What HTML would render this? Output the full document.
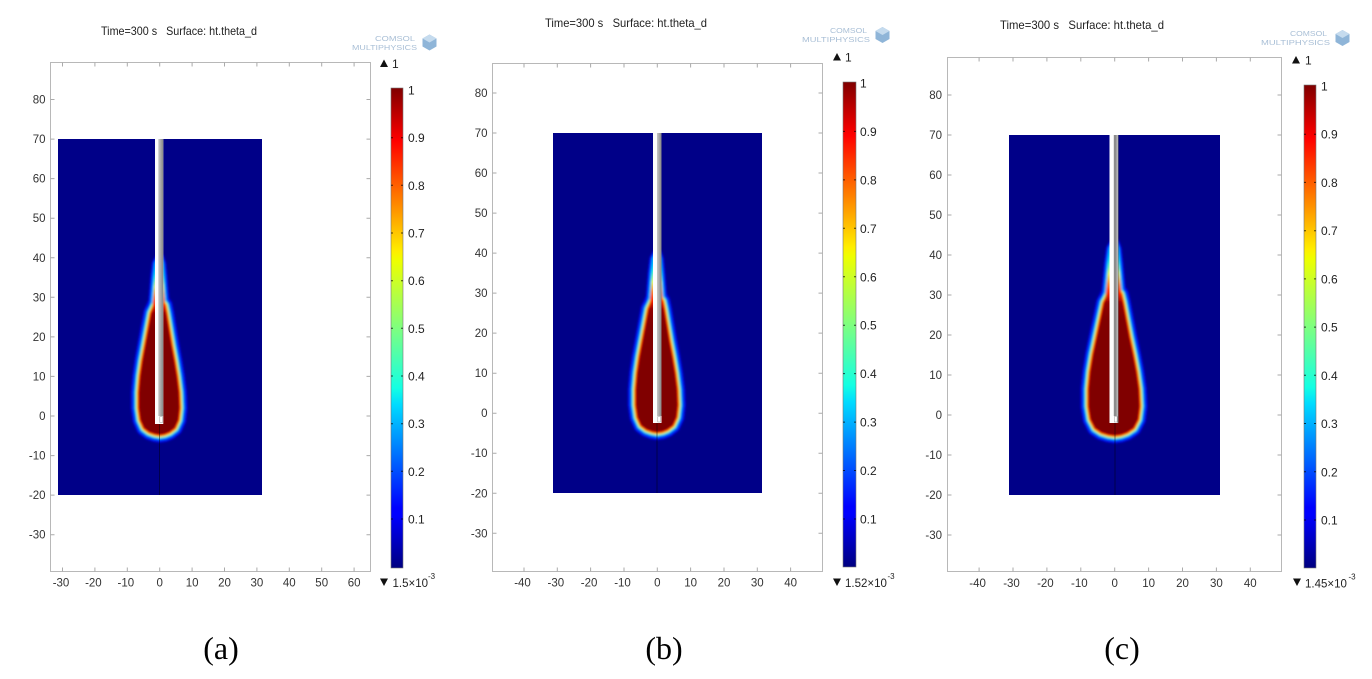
<!DOCTYPE html>
<html><head><meta charset="utf-8"><style>
html,body{margin:0;padding:0;background:#fff;}
svg{display:block;}
</style></head><body>
<svg width="1372" height="679" viewBox="0 0 1372 679" xmlns="http://www.w3.org/2000/svg" xmlns:xlink="http://www.w3.org/1999/xlink" font-family="'Liberation Sans', 'DejaVu Sans', sans-serif">
<defs>
  <linearGradient id="jet" x1="0" y1="0" x2="0" y2="1">
    <stop offset="0" stop-color="#800000"/>
    <stop offset="0.11" stop-color="#ff0000"/>
    <stop offset="0.34" stop-color="#ffee00"/>
    <stop offset="0.36" stop-color="#eeff00"/>
    <stop offset="0.5" stop-color="#7fff7f"/>
    <stop offset="0.625" stop-color="#14ffe3"/>
    <stop offset="0.66" stop-color="#00dbff"/>
    <stop offset="0.875" stop-color="#0000ff"/>
    <stop offset="0.89" stop-color="#0000ff"/>
    <stop offset="1" stop-color="#000080"/>
  </linearGradient>
  <linearGradient id="tailg" x1="0" y1="0" x2="0" y2="1">
    <stop offset="0" stop-color="#800000"/>
    <stop offset="0.22" stop-color="#900000"/>
    <stop offset="0.34" stop-color="#ff2000"/>
    <stop offset="0.48" stop-color="#ff9000"/>
    <stop offset="0.6" stop-color="#f0ff20"/>
    <stop offset="0.75" stop-color="#40ffc0"/>
    <stop offset="0.9" stop-color="#00b0ff"/>
    <stop offset="1" stop-color="#0050ff"/>
  </linearGradient>
  <linearGradient id="pg" x1="0" y1="0" x2="1" y2="0">
    <stop offset="0" stop-color="#c8c8c8"/>
    <stop offset="1" stop-color="#858585"/>
  </linearGradient>
  <filter id="bl" filterUnits="userSpaceOnUse" x="0" y="0" width="1372" height="679">
    <feGaussianBlur stdDeviation="1.1"/>
  </filter>
  <path id="core" vector-effect="non-scaling-stroke" stroke-linejoin="round" d="M0 29.5 L1.5 28 L2.0 26 L2.8 22 L3.6 18 L4.5 14 L5.3 10 L5.9 6 L6.1 2 L5.7 -1 L4.6 -3 L3.0 -4 L1.5 -4.5 L0 -4.7 L-1.5 -4.5 L-3.2 -4 L-4.8 -3 L-5.9 -1 L-6.4 2 L-6.4 6 L-6.0 10 L-5.3 14 L-4.4 18 L-3.5 22 L-2.6 26 L-1.5 28 Z"/>
  <path id="tail" vector-effect="non-scaling-stroke" stroke-linejoin="round" d="M0 40 L0.6 38.5 L1.0 35 L1.4 31 L1.8 27 L2.1 24 L2.3 22 L-2.8 22 L-2.6 24 L-2.3 27 L-1.9 31 L-1.5 35 L-1.0 38.5 Z"/>
  <g id="plume">
    <use xlink:href="#core" fill="none" stroke="#0008f0" stroke-width="16"/>
    <use xlink:href="#core" fill="none" stroke="#0050ff" stroke-width="12"/>
    <use xlink:href="#tail" fill="none" stroke="#0010f8" stroke-width="9"/>
    <use xlink:href="#tail" fill="none" stroke="#0060ff" stroke-width="5.5"/>
    <use xlink:href="#tail" fill="none" stroke="#00c8ff" stroke-width="3"/>
    <use xlink:href="#core" fill="none" stroke="#00b8ff" stroke-width="9"/>
    <use xlink:href="#core" fill="none" stroke="#50ffb0" stroke-width="7"/>
    <use xlink:href="#core" fill="none" stroke="#e8ff20" stroke-width="5.5"/>
    <use xlink:href="#core" fill="none" stroke="#ff9000" stroke-width="4"/>
    <use xlink:href="#core" fill="none" stroke="#ff1800" stroke-width="2.5"/>
    <use xlink:href="#core" fill="#800000" stroke="none"/>
    <use xlink:href="#tail" fill="url(#tailg)" stroke="none"/>
  </g>
</defs>

<!-- ================= PANEL A ================= -->
<text x="101" y="35" font-size="12" fill="#222" textLength="156" lengthAdjust="spacingAndGlyphs">Time=300 s&#160;&#160; Surface: ht.theta_d</text>
<text x="375" y="41" font-size="7" fill="#a9bfd6" textLength="40" lengthAdjust="spacingAndGlyphs">COMSOL</text>
<text x="352" y="50" font-size="7" fill="#a9bfd6" textLength="65" lengthAdjust="spacingAndGlyphs">MULTIPHYSICS</text>
<polygon points="429.5,34.5 436.5,38.5 436.5,46.5 429.5,50.5 422.5,46.5 422.5,38.5" fill="#8fb5d8"/>
<polygon points="429.5,34.5 436.5,38.5 429.5,42.5 422.5,38.5" fill="#c5dbee"/>

<rect x="50.5" y="62.5" width="320" height="509" fill="none" stroke="#b8b8b8" stroke-width="1"/>
<path stroke="#aaa" stroke-width="1" fill="none" d="M62.5 571.5v-4M94.9 571.5v-4M127.3 571.5v-4M159.7 571.5v-4M192.1 571.5v-4M224.5 571.5v-4M256.9 571.5v-4M289.3 571.5v-4M321.7 571.5v-4M354.1 571.5v-4
M62.5 62.5v4M94.9 62.5v4M127.3 62.5v4M159.7 62.5v4M192.1 62.5v4M224.5 62.5v4M256.9 62.5v4M289.3 62.5v4M321.7 62.5v4M354.1 62.5v4
M50.5 99.5h4M50.5 139.1h4M50.5 178.6h4M50.5 218.2h4M50.5 257.8h4M50.5 297.3h4M50.5 336.9h4M50.5 376.4h4M50.5 416h4M50.5 455.6h4M50.5 495.1h4M50.5 534.7h4
M370.5 99.5h-4M370.5 139.1h-4M370.5 178.6h-4M370.5 218.2h-4M370.5 257.8h-4M370.5 297.3h-4M370.5 336.9h-4M370.5 376.4h-4M370.5 416h-4M370.5 455.6h-4M370.5 495.1h-4M370.5 534.7h-4"/>
<g font-size="11.5" fill="#333" text-anchor="end">
<text x="45.5" y="103.5">80</text><text x="45.5" y="143.1">70</text><text x="45.5" y="182.6">60</text><text x="45.5" y="222.2">50</text><text x="45.5" y="261.8">40</text><text x="45.5" y="301.3">30</text><text x="45.5" y="340.9">20</text><text x="45.5" y="380.4">10</text><text x="45.5" y="420">0</text><text x="45.5" y="459.6">-10</text><text x="45.5" y="499.1">-20</text><text x="45.5" y="538.7">-30</text>
</g>
<g font-size="11.5" fill="#333" text-anchor="middle">
<text x="61" y="586.5">-30</text><text x="93.4" y="586.5">-20</text><text x="125.8" y="586.5">-10</text><text x="159.7" y="586.5">0</text><text x="192.1" y="586.5">10</text><text x="224.5" y="586.5">20</text><text x="256.9" y="586.5">30</text><text x="289.3" y="586.5">40</text><text x="321.7" y="586.5">50</text><text x="354.1" y="586.5">60</text>
</g>
<rect x="58" y="139" width="204" height="356" fill="#000088"/>
<g filter="url(#bl)"><g transform="translate(159.7,416) scale(3.24,-3.956)"><use xlink:href="#plume"/></g></g>
<line x1="159.5" y1="424" x2="159.5" y2="495" stroke="#000" stroke-opacity="0.55" stroke-width="0.8"/>
<rect x="155" y="139" width="8.3" height="285" fill="#fdfdfd"/>
<rect x="158.3" y="139" width="5" height="277" fill="url(#pg)"/>
<rect x="159.8" y="416.5" width="2.8" height="6" fill="#fff" stroke="#999" stroke-width="0.5"/>

<rect x="391" y="88" width="12" height="480" fill="url(#jet)" stroke="#777" stroke-width="0.6"/>
<path stroke="#000" stroke-opacity="0.7" stroke-width="1" d="M391 137.7h2M401 137.7h2M391 185.3h2M401 185.3h2M391 233h2M401 233h2M391 280.7h2M401 280.7h2M391 328.3h2M401 328.3h2M391 376h2M401 376h2M391 423.7h2M401 423.7h2M391 471.3h2M401 471.3h2M391 519h2M401 519h2"/>
<g font-size="12" fill="#222">
<text x="408" y="94.5">1</text><text x="408" y="142.2">0.9</text><text x="408" y="189.8">0.8</text><text x="408" y="237.5">0.7</text><text x="408" y="285.2">0.6</text><text x="408" y="332.8">0.5</text><text x="408" y="380.5">0.4</text><text x="408" y="428.2">0.3</text><text x="408" y="475.8">0.2</text><text x="408" y="523.5">0.1</text>
</g>
<polygon points="380,67 388,67 384,59.5" fill="#111"/>
<text x="392" y="68" font-size="12" fill="#222">1</text>
<polygon points="380,578.5 388,578.5 384,586" fill="#111"/>
<text x="392.5" y="587" font-size="11.5" fill="#222">1.5×10</text>
<text x="428" y="579" font-size="8" fill="#222">-3</text>

<!-- ================= PANEL B ================= -->
<text x="545" y="27" font-size="12" fill="#222" textLength="162" lengthAdjust="spacingAndGlyphs">Time=300 s&#160;&#160; Surface: ht.theta_d</text>
<text x="830" y="33" font-size="7" fill="#a9bfd6" textLength="37" lengthAdjust="spacingAndGlyphs">COMSOL</text>
<text x="802" y="42" font-size="7" fill="#a9bfd6" textLength="68" lengthAdjust="spacingAndGlyphs">MULTIPHYSICS</text>
<polygon points="882.5,27 889.5,31 889.5,39 882.5,43 875.5,39 875.5,31" fill="#8fb5d8"/>
<polygon points="882.5,27 889.5,31 882.5,35 875.5,31" fill="#c5dbee"/>

<rect x="492.5" y="63.5" width="330" height="508" fill="none" stroke="#b8b8b8" stroke-width="1"/>
<path stroke="#aaa" stroke-width="1" fill="none" d="M524 571.5v-4M557.3 571.5v-4M590.6 571.5v-4M624 571.5v-4M657.3 571.5v-4M690.6 571.5v-4M724 571.5v-4M757.3 571.5v-4M790.6 571.5v-4
M524 63.5v4M557.3 63.5v4M590.6 63.5v4M624 63.5v4M657.3 63.5v4M690.6 63.5v4M724 63.5v4M757.3 63.5v4M790.6 63.5v4
M492.5 93h4M492.5 133h4M492.5 173h4M492.5 213.1h4M492.5 253.1h4M492.5 293.1h4M492.5 333.1h4M492.5 373.2h4M492.5 413.2h4M492.5 453.2h4M492.5 493.3h4M492.5 533.3h4
M822.5 93h-4M822.5 133h-4M822.5 173h-4M822.5 213.1h-4M822.5 253.1h-4M822.5 293.1h-4M822.5 333.1h-4M822.5 373.2h-4M822.5 413.2h-4M822.5 453.2h-4M822.5 493.3h-4M822.5 533.3h-4"/>
<g font-size="11.5" fill="#333" text-anchor="end">
<text x="487.5" y="97">80</text><text x="487.5" y="137">70</text><text x="487.5" y="177">60</text><text x="487.5" y="217.1">50</text><text x="487.5" y="257.1">40</text><text x="487.5" y="297.1">30</text><text x="487.5" y="337.1">20</text><text x="487.5" y="377.2">10</text><text x="487.5" y="417.2">0</text><text x="487.5" y="457.2">-10</text><text x="487.5" y="497.3">-20</text><text x="487.5" y="537.3">-30</text>
</g>
<g font-size="11.5" fill="#333" text-anchor="middle">
<text x="522.5" y="586.5">-40</text><text x="555.8" y="586.5">-30</text><text x="589.1" y="586.5">-20</text><text x="622.5" y="586.5">-10</text><text x="657.3" y="586.5">0</text><text x="690.6" y="586.5">10</text><text x="724" y="586.5">20</text><text x="757.3" y="586.5">30</text><text x="790.6" y="586.5">40</text>
</g>
<rect x="553" y="133" width="209" height="360" fill="#000088"/>
<g filter="url(#bl)"><g transform="translate(657.3,413.2) scale(3.333,-4.003)"><use xlink:href="#plume"/></g></g>
<line x1="657" y1="423" x2="657" y2="493" stroke="#000" stroke-opacity="0.55" stroke-width="0.8"/>
<rect x="653" y="133" width="8.5" height="290" fill="#fdfdfd"/>
<rect x="657" y="133" width="4.5" height="283" fill="url(#pg)"/>
<rect x="657.8" y="416.5" width="2.8" height="5.5" fill="#fff" stroke="#999" stroke-width="0.5"/>

<rect x="843" y="82" width="13" height="485" fill="url(#jet)" stroke="#777" stroke-width="0.6"/>
<path stroke="#000" stroke-opacity="0.7" stroke-width="1" d="M843 131.4h2M854 131.4h2M843 179.9h2M854 179.9h2M843 228.3h2M854 228.3h2M843 276.8h2M854 276.8h2M843 325.2h2M854 325.2h2M843 373.6h2M854 373.6h2M843 422.1h2M854 422.1h2M843 470.5h2M854 470.5h2M843 519h2M854 519h2"/>
<g font-size="12" fill="#222">
<text x="860" y="87.5">1</text><text x="860" y="135.9">0.9</text><text x="860" y="184.4">0.8</text><text x="860" y="232.8">0.7</text><text x="860" y="281.3">0.6</text><text x="860" y="329.7">0.5</text><text x="860" y="378.1">0.4</text><text x="860" y="426.6">0.3</text><text x="860" y="475">0.2</text><text x="860" y="523.5">0.1</text>
</g>
<polygon points="833,60.5 841,60.5 837,53" fill="#111"/>
<text x="845" y="61.5" font-size="12" fill="#222">1</text>
<polygon points="833,578.5 841,578.5 837,586" fill="#111"/>
<text x="845" y="587" font-size="11.5" fill="#222">1.52×10</text>
<text x="887.5" y="579" font-size="8" fill="#222">-3</text>

<!-- ================= PANEL C ================= -->
<text x="1000" y="29" font-size="12" fill="#222" textLength="164" lengthAdjust="spacingAndGlyphs">Time=300 s&#160;&#160; Surface: ht.theta_d</text>
<text x="1290" y="36" font-size="7" fill="#a9bfd6" textLength="37" lengthAdjust="spacingAndGlyphs">COMSOL</text>
<text x="1261" y="45" font-size="7" fill="#a9bfd6" textLength="69" lengthAdjust="spacingAndGlyphs">MULTIPHYSICS</text>
<polygon points="1342.5,30 1349.5,34 1349.5,42 1342.5,46 1335.5,42 1335.5,34" fill="#8fb5d8"/>
<polygon points="1342.5,30 1349.5,34 1342.5,38 1335.5,34" fill="#c5dbee"/>

<rect x="947.5" y="57.5" width="334" height="514" fill="none" stroke="#b8b8b8" stroke-width="1"/>
<path stroke="#aaa" stroke-width="1" fill="none" d="M979.1 571.5v-4M1013 571.5v-4M1046.9 571.5v-4M1080.8 571.5v-4M1114.7 571.5v-4M1148.6 571.5v-4M1182.5 571.5v-4M1216.4 571.5v-4M1250.3 571.5v-4
M979.1 57.5v4M1013 57.5v4M1046.9 57.5v4M1080.8 57.5v4M1114.7 57.5v4M1148.6 57.5v4M1182.5 57.5v4M1216.4 57.5v4M1250.3 57.5v4
M947.5 95h4M947.5 135h4M947.5 175h4M947.5 215h4M947.5 255h4M947.5 295h4M947.5 335h4M947.5 375h4M947.5 415h4M947.5 455h4M947.5 495h4M947.5 535h4
M1281.5 95h-4M1281.5 135h-4M1281.5 175h-4M1281.5 215h-4M1281.5 255h-4M1281.5 295h-4M1281.5 335h-4M1281.5 375h-4M1281.5 415h-4M1281.5 455h-4M1281.5 495h-4M1281.5 535h-4"/>
<g font-size="11.5" fill="#333" text-anchor="end">
<text x="942" y="99">80</text><text x="942" y="139">70</text><text x="942" y="179">60</text><text x="942" y="219">50</text><text x="942" y="259">40</text><text x="942" y="299">30</text><text x="942" y="339">20</text><text x="942" y="379">10</text><text x="942" y="419">0</text><text x="942" y="459">-10</text><text x="942" y="499">-20</text><text x="942" y="539">-30</text>
</g>
<g font-size="11.5" fill="#333" text-anchor="middle">
<text x="977.6" y="587">-40</text><text x="1011.5" y="587">-30</text><text x="1045.4" y="587">-20</text><text x="1079.3" y="587">-10</text><text x="1114.7" y="587">0</text><text x="1148.6" y="587">10</text><text x="1182.5" y="587">20</text><text x="1216.4" y="587">30</text><text x="1250.3" y="587">40</text>
</g>
<rect x="1009" y="135" width="211" height="360" fill="#000088"/>
<g filter="url(#bl)"><g transform="translate(1114.7,415) scale(4.07,-4.32)"><use xlink:href="#plume"/></g></g>
<line x1="1115" y1="423" x2="1115" y2="495" stroke="#000" stroke-opacity="0.55" stroke-width="0.8"/>
<rect x="1109.5" y="135" width="9" height="288" fill="#fdfdfd"/>
<rect x="1113.8" y="135" width="3" height="281" fill="#8c8c8c"/>
<line x1="1118" y1="135" x2="1118" y2="423" stroke="#444" stroke-width="0.8"/>
<rect x="1114.3" y="416.5" width="2.8" height="5.5" fill="#fff" stroke="#999" stroke-width="0.5"/>

<rect x="1304" y="85" width="12" height="483" fill="url(#jet)" stroke="#777" stroke-width="0.6"/>
<path stroke="#000" stroke-opacity="0.7" stroke-width="1" d="M1304 134.2h2M1314 134.2h2M1304 182.4h2M1314 182.4h2M1304 230.7h2M1314 230.7h2M1304 278.9h2M1314 278.9h2M1304 327.1h2M1314 327.1h2M1304 375.3h2M1314 375.3h2M1304 423.5h2M1314 423.5h2M1304 471.8h2M1314 471.8h2M1304 520h2M1314 520h2"/>
<g font-size="12" fill="#222">
<text x="1321" y="90.5">1</text><text x="1321" y="138.7">0.9</text><text x="1321" y="186.9">0.8</text><text x="1321" y="235.2">0.7</text><text x="1321" y="283.4">0.6</text><text x="1321" y="331.6">0.5</text><text x="1321" y="379.8">0.4</text><text x="1321" y="428">0.3</text><text x="1321" y="476.3">0.2</text><text x="1321" y="524.5">0.1</text>
</g>
<polygon points="1292,63.5 1300,63.5 1296,56" fill="#111"/>
<text x="1305" y="64.5" font-size="12" fill="#222">1</text>
<polygon points="1293,578.5 1301,578.5 1297,586" fill="#111"/>
<text x="1305" y="587.5" font-size="11.5" fill="#222">1.45×10</text>
<text x="1348.5" y="579.5" font-size="8" fill="#222">-3</text>

<!-- ================= CAPTIONS ================= -->
<g font-family="'Liberation Serif', 'DejaVu Serif', serif" font-size="32" fill="#000" text-anchor="middle">
<text x="221" y="659">(a)</text>
<text x="664" y="659">(b)</text>
<text x="1122" y="659">(c)</text>
</g>
</svg>
</body></html>
